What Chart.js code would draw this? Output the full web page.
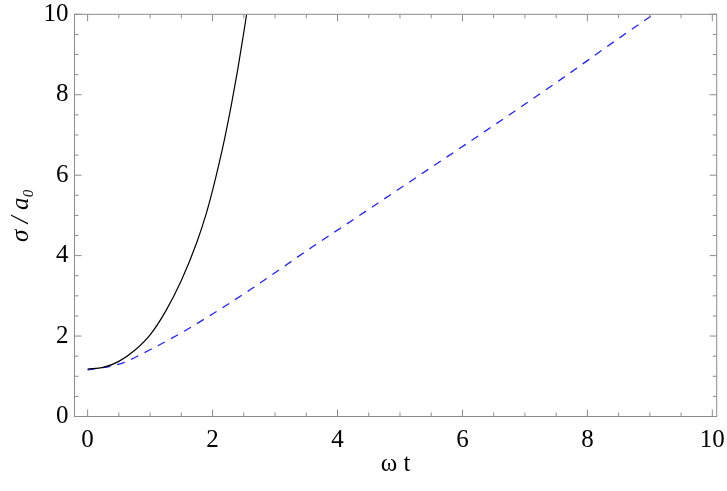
<!DOCTYPE html>
<html>
<head>
<meta charset="utf-8">
<script src="https://cdn.jsdelivr.net/npm/chart.js@4/dist/chart.umd.min.js"></script>
<style>
  html, body { margin: 0; padding: 0; background: #fff; }
  #wrap { width: 727px; height: 491px; }
</style>
</head>
<body>
<div id="wrap"><canvas id="sigma-chart"></canvas></div>
<script>
// values
var blackT     = [0, 0.25, 0.5, 0.75, 1.0, 1.25, 1.5, 1.75, 1.9, 2.0, 2.1, 2.2, 2.3, 2.4, 2.5, 2.55];
var blackSigma = [1.18, 1.22, 1.37, 1.64, 2.03, 2.62, 3.38, 4.34, 5.05, 5.62, 6.26, 6.96, 7.74, 8.6, 9.55, 10.05];
var blueT      = [0, 0.5, 1.0, 1.5, 2.0, 2.6, 3.6, 4.47, 5.43, 6.39, 7.5, 8.5, 9.06];
var blueSigma  = [1.16, 1.3, 1.66, 2.08, 2.55, 3.15, 4.22, 5.12, 6.12, 7.12, 8.3, 9.4, 10.0];
var xTickLabels = [0, 2, 4, 6, 8, 10];
var yTickLabels = [0, 2, 4, 6, 8, 10];

var serif = "'Liberation Serif', 'Times New Roman', Times, serif";

function toPoints(xs, ys) {
    var pts = [];
    for (let i = 0; i < xs.length; i++) {
        pts.push({x: xs[i], y: ys[i]});
    }
    return pts;
}

// frame + inward ticks on all four sides, like the original
var frameTicks = {
    id: 'frameTicks',
    afterDraw: function(chart) {
        var c = chart.ctx, a = chart.chartArea;
        var xs = chart.scales.x, ys = chart.scales.y;
        c.save();
        c.strokeStyle = '#8c8c8c';
        c.lineWidth = 1;
        c.strokeRect(a.left, a.top, a.right - a.left, a.bottom - a.top);
        c.beginPath();
        for (let v = 0; v <= 10.001; v += 0.5) {
            var len = (Math.abs(v % 2) < 0.001) ? 7 : 4;
            var px = xs.getPixelForValue(v);
            c.moveTo(px, a.bottom); c.lineTo(px, a.bottom - len);
            c.moveTo(px, a.top); c.lineTo(px, a.top + len);
            var py = ys.getPixelForValue(v);
            c.moveTo(a.left, py); c.lineTo(a.left + len, py);
            c.moveTo(a.right, py); c.lineTo(a.right - len, py);
        }
        c.stroke();
        c.restore();
    }
};

var ctx = document.getElementById('sigma-chart').getContext('2d');
var myChart = new Chart(ctx, {
    type: 'line',
    data: {
        datasets: [
            {
                label: 'black',
                data: toPoints(blackT, blackSigma),
                borderColor: '#000000',
                borderWidth: 1.2,
                pointRadius: 0,
                cubicInterpolationMode: 'monotone',
                fill: false
            },
            {
                label: 'blue',
                data: toPoints(blueT, blueSigma),
                borderColor: '#2020ff',
                borderWidth: 1.3,
                borderDash: [8, 7],
                pointRadius: 0,
                cubicInterpolationMode: 'monotone',
                fill: false
            }
        ]
    },
    options: {
        responsive: true,
        maintainAspectRatio: false,
        animation: false,
        layout: { padding: { left: 0, right: 10.3, top: 14.3, bottom: 12 } },
        plugins: {
            legend: { display: false },
            tooltip: { enabled: false }
        },
        scales: {
            x: {
                type: 'linear',
                min: -0.21,
                max: 10.07,
                grid: { display: false, drawTicks: false },
                border: { display: false },
                afterBuildTicks: function(scale) {
                    scale.ticks = xTickLabels.map(function(v) { return {value: v}; });
                },
                afterFit: function(scale) {
                    scale.height = 62.5;
                    scale.paddingLeft = 0;
                    scale.paddingRight = 0;
                },
                ticks: {
                    color: '#000',
                    padding: 9,
                    maxRotation: 0,
                    font: { family: serif, size: 25 }
                },
                title: {
                    display: true,
                    text: 'ω t',
                    color: '#000',
                    padding: { top: 0, bottom: 0 },
                    font: { family: serif, size: 25 }
                }
            },
            y: {
                type: 'linear',
                min: 0,
                max: 10,
                grid: { display: false, drawTicks: false },
                border: { display: false },
                afterBuildTicks: function(scale) {
                    scale.ticks = yTickLabels.map(function(v) { return {value: v}; });
                },
                afterFit: function(scale) {
                    scale.width = 74.5;
                    scale.paddingTop = 0;
                    scale.paddingBottom = 0;
                },
                ticks: {
                    color: '#000',
                    padding: 6,
                    font: { family: serif, size: 25 }
                },
                title: {
                    display: true,
                    text: 'σ / a₀',
                    color: '#000',
                    padding: { top: 6, bottom: 0 },
                    font: { family: serif, size: 25, style: 'italic' }
                }
            }
        }
    },
    plugins: [frameTicks]
});
</script>
</body>
</html>
